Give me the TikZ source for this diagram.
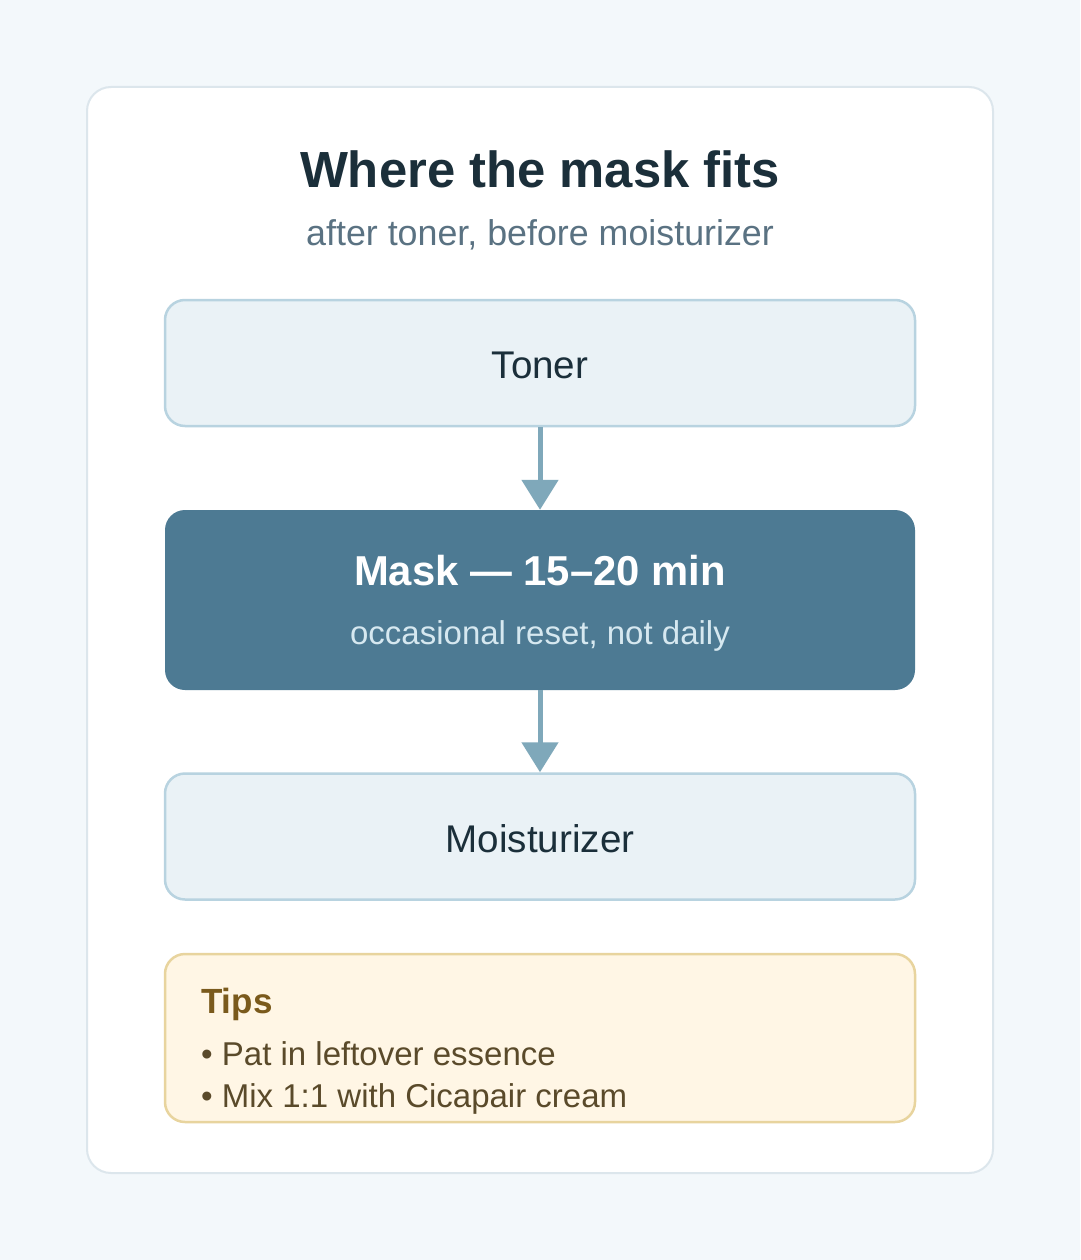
\documentclass[tikz,border=0pt]{standalone}
\usepackage{fontspec}
\setmainfont{Liberation Sans}
\usetikzlibrary{arrows.meta}
\definecolor{bgc}{HTML}{F3F8FB}
\definecolor{cardline}{HTML}{DCE6EC}
\definecolor{stepfill}{HTML}{EAF2F6}
\definecolor{stepline}{HTML}{B8D3E0}
\definecolor{maskfill}{HTML}{4D7A93}
\definecolor{arrowc}{HTML}{7FA8BA}
\definecolor{titlec}{HTML}{1B2F3A}
\definecolor{subc}{HTML}{5A7282}
\definecolor{occc}{HTML}{D6E8F0}
\definecolor{tipfill}{HTML}{FFF6E5}
\definecolor{tipline}{HTML}{E8D49E}
\definecolor{tiptitle}{HTML}{7A5A1C}
\definecolor{tiptext}{HTML}{5A4A2A}
\tikzset{
  stepbox/.style={draw=stepline, line width=2.5pt, fill=stepfill, rounded corners=20pt,
    minimum width=750pt, minimum height=126pt, inner sep=0pt},
  maskbox/.style={fill=maskfill, rounded corners=20pt,
    minimum width=750pt, minimum height=180pt, inner sep=0pt},
  tipbox/.style={draw=tipline, line width=2.5pt, fill=tipfill, rounded corners=20pt,
    minimum width=750pt, minimum height=168pt, inner sep=0pt},
  txt/.style={inner sep=0pt, anchor=base},
  flow/.style={draw=arrowc, line width=5pt, -{Triangle[width=36pt,length=30pt]}}
}
\begin{document}
\begin{tikzpicture}[x=1pt,y=-1pt]
\useasboundingbox (0,0) rectangle (1080,1260);
\fill[bgc] (0,0) rectangle (1080,1260);
\draw[cardline, line width=2pt, fill=white, rounded corners=24pt] (87,87) rectangle (993,1173);
\node[txt, text=titlec] (title) at (540,187) {\fontsize{50.8}{60}\selectfont\bfseries Where the mask fits};
\node[txt, text=subc] (sub) at (540,245) {\fontsize{35.8}{42}\selectfont after toner, before moisturizer};
\node[stepbox] (toner) at (540,363) {};
\node[txt, text=titlec] (tonert) at (540,378) {\fontsize{38.6}{46}\selectfont Toner};
\node[maskbox] (mask) at (540,600) {};
\node[txt, text=white] (maskt) at (540,585) {\fontsize{41.8}{50}\selectfont\bfseries Mask — 15–20 min};
\node[txt, text=occc] (maskst) at (540,644) {\fontsize{33}{40}\selectfont occasional reset, not daily};
\node[stepbox] (moist) at (540,836.5) {};
\node[txt, text=titlec] (moistt) at (540,852) {\fontsize{38.6}{46}\selectfont Moisturizer};
\node[tipbox] (tips) at (540,1038) {};
\node[txt, anchor=base west, text=tiptitle] (tipst) at (201,1013) {\fontsize{35}{42}\selectfont\bfseries Tips};
\node[txt, anchor=base west, text=tiptext] (tip1) at (201,1065) {\fontsize{33}{40}\selectfont • Pat in leftover essence};
\node[txt, anchor=base west, text=tiptext] (tip2) at (201,1107) {\fontsize{33}{40}\selectfont • Mix 1:1 with Cicapair cream};
\draw[flow] (toner.south) -- (mask.north);
\draw[flow] (mask.south) -- (moist.north);
\end{tikzpicture}
\end{document}
